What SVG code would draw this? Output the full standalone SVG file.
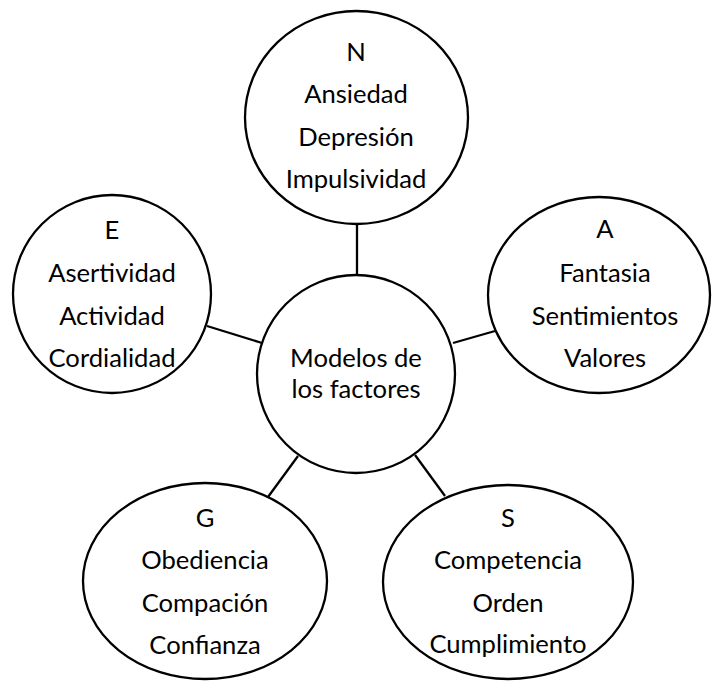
<svg xmlns="http://www.w3.org/2000/svg" width="712" height="681" viewBox="0 0 712 681">
<style>
.shape{fill:#fff;stroke:#000;stroke-width:2.3}
.conn line{stroke:#000;stroke-width:2.3}
text{font-family:Lato,"Open Sans","Liberation Sans",sans-serif;font-size:25.6px;fill:#000;text-anchor:middle}
</style>
<rect width="712" height="681" fill="#fff"/>
<g id="connectors" class="conn">
<line x1="357" y1="224" x2="357" y2="276"/>
<line x1="207" y1="326" x2="262" y2="343"/>
<line x1="453" y1="343" x2="495" y2="331"/>
<line x1="298" y1="456" x2="268" y2="497"/>
<line x1="415" y1="455" x2="445" y2="496"/>
</g>
<g id="node-center">
<circle class="shape" cx="356" cy="374" r="99"/>
<text x="356" y="367">Modelos de</text>
<text x="356" y="398">los factores</text>
</g>
<g id="node-N">
<ellipse class="shape" cx="356.5" cy="117.5" rx="111.5" ry="106.5"/>
<text x="356" y="61">N</text>
<text x="356" y="103">Ansiedad</text>
<text x="356" y="146">Depresión</text>
<text x="356" y="188">Impulsividad</text>
</g>
<g id="node-E">
<ellipse class="shape" cx="112" cy="294" rx="99" ry="99"/>
<text x="112" y="239">E</text>
<text x="112" y="282">Asertividad</text>
<text x="112" y="325">Actividad</text>
<text x="112" y="367">Cordialidad</text>
</g>
<g id="node-A">
<ellipse class="shape" cx="599" cy="295" rx="111" ry="98"/>
<text x="605" y="238">A</text>
<text x="605" y="282">Fantasia</text>
<text x="605" y="325">Sentimientos</text>
<text x="605" y="367">Valores</text>
</g>
<g id="node-G">
<ellipse class="shape" cx="205" cy="581" rx="122" ry="98"/>
<text x="205" y="527">G</text>
<text x="205" y="569">Obediencia</text>
<text x="205" y="612">Compación</text>
<text x="205" y="654">Confianza</text>
</g>
<g id="node-S">
<ellipse class="shape" cx="508" cy="582" rx="125" ry="97"/>
<text x="508" y="527">S</text>
<text x="508" y="569">Competencia</text>
<text x="508" y="612">Orden</text>
<text x="508" y="653">Cumplimiento</text>
</g>
</svg>
